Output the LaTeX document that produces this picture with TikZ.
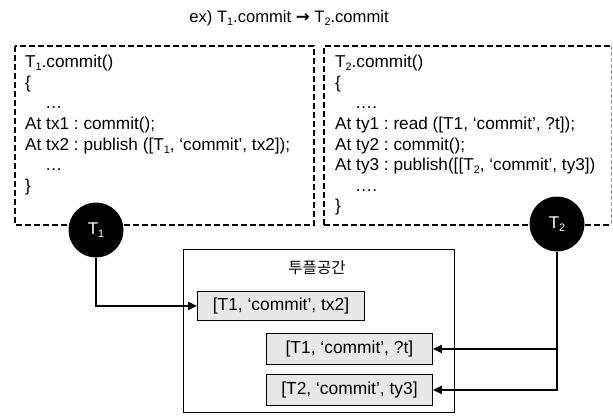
\documentclass[tikz,border=0pt]{standalone}
\usepackage{fontspec}
\setmainfont{Liberation Sans}
\newfontfamily\krfont{Noto Sans CJK KR}
\newfontfamily\symfont{DejaVu Sans}
\usetikzlibrary{arrows.meta}
\frenchspacing

% lowered, smaller index digit as in T_1
\newcommand\lowsub[1]{\raisebox{-0.35ex}{\fontsize{10.8}{10.8}\selectfont #1}}

\tikzset{
  codetext/.style={anchor=north west, inner sep=0pt, align=left,
    font=\fontsize{17.2}{20.6}\selectfont},
  frameline/.style={line width=2pt, dash pattern=on 6pt off 3pt},
  thinframe/.style={line width=0.8pt, gray!70, dash pattern=on 4pt off 2pt},
  tnode/.style={circle, fill=black, text=white, minimum size=55pt, inner sep=0pt,
    font=\fontsize{17}{18}\selectfont},
  tuplebox/.style={draw=black, line width=0.9pt, fill=black!9, anchor=north west,
    inner sep=0pt, font=\fontsize{17.4}{19}\selectfont},
  conn/.style={line width=2pt, -{Triangle[length=9pt,width=8pt]}},
}

\begin{document}
\begin{tikzpicture}[x=1pt,y=-1pt]
\useasboundingbox (0,0) rectangle (613,415);

% heading
\node[font=\fontsize{16.6}{18}\selectfont] (title) at (289,18)
  {ex) T\lowsub{1}.commit {\symfont\bfseries →} T\lowsub{2}.commit};

% code frame of T1
\coordinate (la) at (15,46);
\coordinate (lb) at (314,225);
\draw[frameline] (la) rectangle (lb);
\node[codetext] (code1) at (25,55) {%
  T\lowsub{1}.commit()\\
  \{\\
  \hspace*{20pt}…\\
  At tx1 : commit();\\
  At tx2 : publish ([T\lowsub{1}, ‘commit’, tx2]);\\
  \hspace*{20pt}…\\
  \}};

% code frame of T2
\coordinate (ra) at (324,46);
\coordinate (rb) at (611,225);
\draw[frameline] (rb -| ra) -- (ra) -- (ra -| rb);
\draw[frameline] (rb -| ra) -- (rb);
\draw[thinframe] (ra -| rb) -- (rb);
\node[codetext] (code2) at (335,55) {%
  T\lowsub{2}.commit()\\
  \{\\
  \hspace*{20pt}….\\
  At ty1 : read ([T1, ‘commit’, ?t]);\\
  At ty2 : commit();\\
  At ty3 : publish([[T\lowsub{2}, ‘commit’, ty3])\\
  \hspace*{20pt}….\\
  \}};

% transactions
\node[tnode] (t1) at (96,230) {T\lowsub{1}};
\node[tnode] (t2) at (557,224) {T\lowsub{2}};

% tuple space
\node[draw=black, line width=0.9pt, anchor=north west, minimum width=271pt,
  minimum height=163pt, inner sep=0pt] (space) at (183,249) {};
\node[font=\krfont\fontsize{15.5}{17}\selectfont] (spacelabel) at (317,268) {투플공간};

\node[tuplebox, minimum width=167pt, minimum height=29pt] (tup1) at (197,291)
  {[T1, ‘commit’, tx2]};
\node[tuplebox, minimum width=166pt, minimum height=31pt] (tup2) at (266,333)
  {[T1, ‘commit’, ?t]};
\node[tuplebox, minimum width=166pt, minimum height=31pt] (tup3) at (266,374)
  {[T2, ‘commit’, ty3]};

% connectors
\draw[conn] (t1.south) |- (tup1.west);
\draw[conn] (t2.south) |- (tup3.east);
\draw[conn] (t2.south |- tup2.east) -- (tup2.east);
\end{tikzpicture}
\end{document}
